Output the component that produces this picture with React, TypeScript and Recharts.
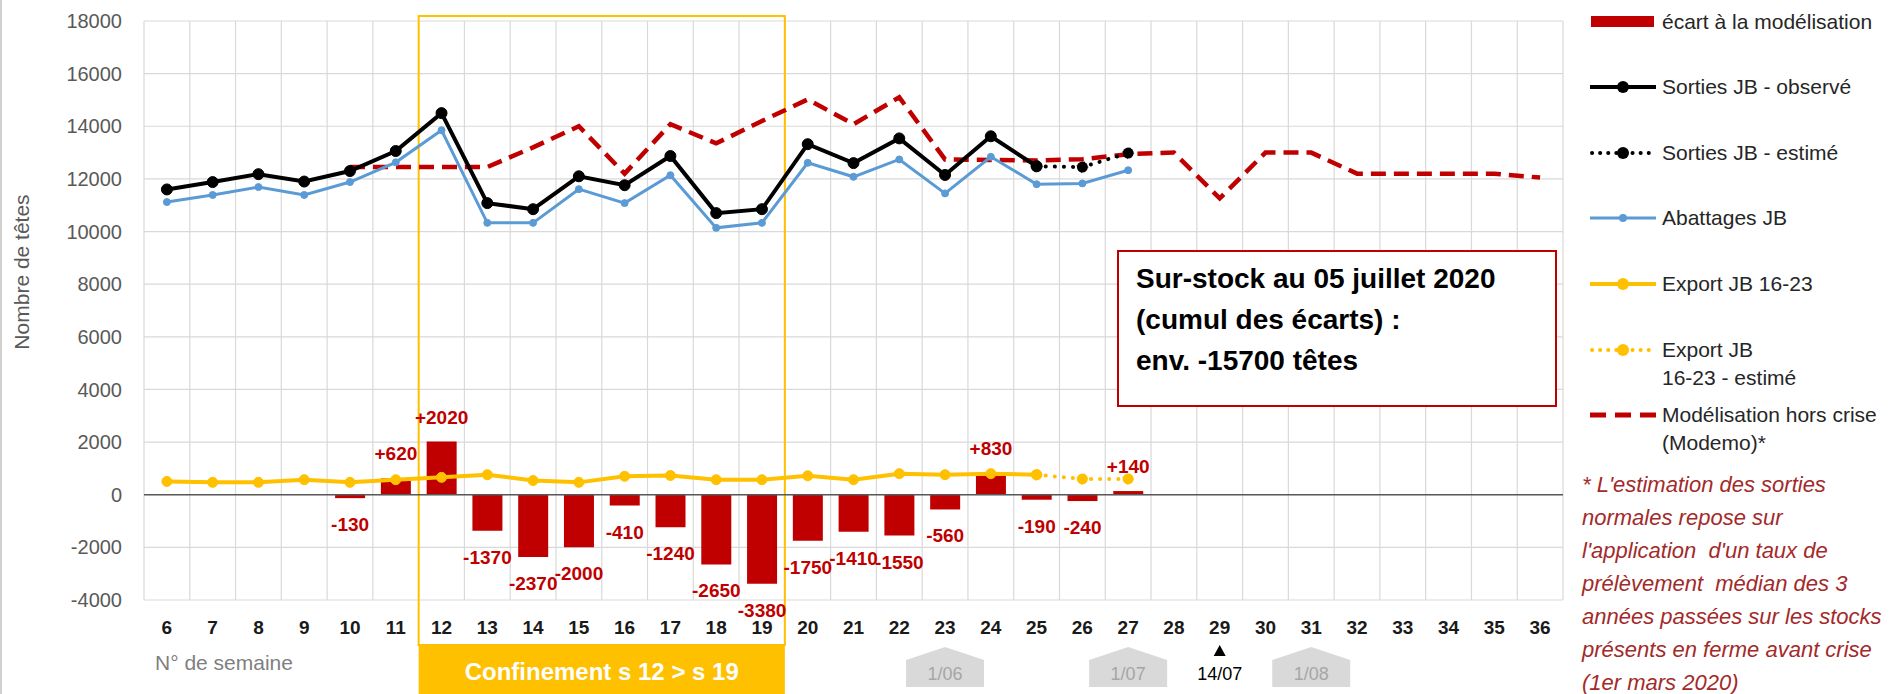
import React from "react";
import {
  ComposedChart,
  Bar,
  Line,
  XAxis,
  YAxis,
  CartesianGrid,
  ReferenceLine,
  ReferenceArea,
  LabelList,
} from "recharts";

const FONT = "'Liberation Sans', Arial, sans-serif";

// semaines 6 à 36
const WEEKS = [
  6, 7, 8, 9, 10, 11, 12, 13, 14, 15, 16, 17, 18, 19, 20, 21, 22, 23, 24, 25, 26,
  27, 28, 29, 30, 31, 32, 33, 34, 35, 36,
];

const ECART = [
  null, null, null, null, -130, 620, 2020, -1370, -2370, -2000, -410, -1240, -2650,
  -3380, -1750, -1410, -1550, -560, 830, -190, -240, 140, null, null, null, null,
  null, null, null, null, null,
];

const SORTIES_OBS = [
  11600, 11880, 12180, 11900, 12300, 13060, 14500, 11080, 10850, 12100, 11760, 12870,
  10700, 10850, 13320, 12600, 13540, 12150, 13620, 12480, null, null, null, null, null,
  null, null, null, null, null, null,
];

const SORTIES_EST = [
  null, null, null, null, null, null, null, null, null, null, null, null, null, null,
  null, null, null, null, null, 12480, 12450, 12980, null, null, null, null, null, null,
  null, null, null,
];

const ABATTAGES = [
  11120, 11390, 11690, 11390, 11880, 12630, 13850, 10330, 10330, 11610, 11080, 12140,
  10140, 10330, 12610, 12080, 12740, 11450, 12840, 11800, 11830, 12330, null, null,
  null, null, null, null, null, null, null,
];

const EXPORT = [
  505, 470, 470, 570, 470, 570, 660, 760, 540, 470, 700, 730, 570, 570, 720, 570, 800,
  760, 800, 760, null, null, null, null, null, null, null, null, null, null, null,
];

const EXPORT_EST = [
  null, null, null, null, null, null, null, null, null, null, null, null, null, null,
  null, null, null, null, null, 760, 600, 600, null, null, null, null, null, null, null,
  null, null,
];

const MODELISATION = [
  null, null, null, null, 12450, 12450, 12450, 12450, 13200, 14000, 12200, 14080,
  13350, 14200, 15020, 14080, 15100, 12740, 12720, 12700, 12750, 12940, 13000, 11260,
  13000, 13000, 12200, 12200, 12200, 12200, 12050,
];

const Y_TICKS = [-4000, -2000, 0, 2000, 4000, 6000, 8000, 10000, 12000, 14000, 16000, 18000];

const CONFINEMENT = { from: 12, to: 19, label: "Confinement s 12 > s 19" };

const MONTH_MARKS = [
  { week: 23, label: "1/06" },
  { week: 27, label: "1/07" },
  { week: 31, label: "1/08" },
];
const EVENT_MARKS = [{ week: 29, label: "14/07" }];

const FOOTNOTE = [
  "* L'estimation des sorties",
  "normales repose sur",
  "l'application  d'un taux de",
  "prélèvement  médian des 3",
  "années passées sur les stocks",
  "présents en ferme avant crise",
  "(1er mars 2020)",
];

const RED = "#C00000";
const BLUE = "#5B9BD5";
const YELLOW = "#FFC000";

const data = WEEKS.map((week, i) => ({
  week,
  ecart: ECART[i],
  sortiesObs: SORTIES_OBS[i],
  sortiesEst: SORTIES_EST[i],
  abattages: ABATTAGES[i],
  export: EXPORT[i],
  exportEst: EXPORT_EST[i],
  modelisation: MODELISATION[i],
}));

// grille verticale entre les semaines (bords des bandes de l'axe catégoriel)
function weekBoundaries({ xAxis, offset }: any): number[] {
  const s = xAxis?.scale;
  if (typeof s === "function" && typeof s.bandwidth === "function") {
    const starts = WEEKS.map((w) => s(w) as number);
    return [...starts, starts[starts.length - 1] + s.bandwidth()];
  }
  const step = offset.width / WEEKS.length;
  return [...WEEKS.map((_, i) => offset.left + i * step), offset.left + offset.width];
}

function WeekTick(props: any) {
  const { x, y, payload } = props;
  const week = payload?.value;
  const month = MONTH_MARKS.find((m) => m.week === week);
  const ev = EVENT_MARKS.find((m) => m.week === week);
  return (
    <g>
      <text x={x} y={y + 34} textAnchor="middle" fontSize={19} fontWeight="bold" fill="#1a1a1a">
        {week}
      </text>
      {month && (
        <g>
          <polygon
            points={`${x - 39},${y + 60} ${x},${y + 47} ${x + 39},${y + 60} ${x + 39},${y + 87} ${x - 39},${y + 87}`}
            fill="#D9D9D9"
          />
          <text x={x} y={y + 80} textAnchor="middle" fontSize={18} fill="#A6A6A6">
            {month.label}
          </text>
        </g>
      )}
      {ev && (
        <g>
          <polygon points={`${x - 6},${y + 56} ${x + 6},${y + 56} ${x},${y + 45}`} fill="#000" />
          <text x={x} y={y + 80} textAnchor="middle" fontSize={18} fill="#000">
            {ev.label}
          </text>
        </g>
      )}
    </g>
  );
}

function EcartLabel(props: any) {
  const vb = props.viewBox ?? props;
  const x = vb.x ?? props.x;
  const y = vb.y ?? props.y;
  const width = vb.width ?? props.width;
  const height = vb.height ?? props.height;
  const value = props.value;
  if (value == null || x == null || y == null) return null;
  const v = Number(value);
  const top = Math.min(y, y + height);
  const bottom = Math.max(y, y + height);
  const cy = v >= 0 ? top - 25 : bottom + 26;
  return (
    <text x={x + width / 2} y={cy + 7} textAnchor="middle" fontSize={19} fontWeight="bold" fill={RED}>
      {v > 0 ? `+${v}` : `${v}`}
    </text>
  );
}

function ConfinementShape(props: any) {
  const { x, y, width, height } = props;
  const bottom = y + height;
  return (
    <g>
      <rect x={x} y={y - 5} width={width} height={height + 50} fill="none" stroke={YELLOW} strokeWidth={2} />
      <rect x={x} y={bottom + 45} width={width} height={49} fill={YELLOW} />
      <text x={x + width / 2} y={bottom + 80} textAnchor="middle" fontSize={24} fontWeight="bold" fill="#fff">
        {CONFINEMENT.label}
      </text>
    </g>
  );
}

type Swatch = "bar" | "line" | "dotted" | "thin" | "dashed";

const LEGEND = [
  { lines: ["écart à la modélisation"], kind: "bar" as Swatch, color: RED, cy: 22 },
  { lines: ["Sorties JB - observé"], kind: "line" as Swatch, color: "#000", cy: 87 },
  { lines: ["Sorties JB - estimé"], kind: "dotted" as Swatch, color: "#000", cy: 153 },
  { lines: ["Abattages JB"], kind: "thin" as Swatch, color: BLUE, cy: 218 },
  { lines: ["Export JB 16-23"], kind: "line" as Swatch, color: YELLOW, cy: 284 },
  { lines: ["Export JB", "16-23 - estimé"], kind: "dotted" as Swatch, color: YELLOW, cy: 350 },
  { lines: ["Modélisation hors crise", "(Modemo)*"], kind: "dashed" as Swatch, color: RED, cy: 415 },
];

function LegendSwatch({ kind, color }: { kind: Swatch; color: string }) {
  return (
    <svg width={68} height={28} style={{ position: "absolute", left: 0, top: 0 }}>
      {kind === "bar" && <rect x={1} y={8} width={63} height={11} fill={color} />}
      {kind === "line" && (
        <g>
          <line x1={0} y1={14} x2={66} y2={14} stroke={color} strokeWidth={4} />
          <circle cx={33} cy={14} r={6} fill={color} />
        </g>
      )}
      {kind === "thin" && (
        <g>
          <line x1={0} y1={14} x2={66} y2={14} stroke={color} strokeWidth={3} />
          <circle cx={33} cy={14} r={4} fill={color} />
        </g>
      )}
      {kind === "dotted" && (
        <g>
          <line x1={2} y1={14} x2={66} y2={14} stroke={color} strokeWidth={4} strokeDasharray="0.1 8" strokeLinecap="round" />
          <circle cx={33} cy={14} r={6} fill={color} />
        </g>
      )}
      {kind === "dashed" && (
        <line x1={0} y1={14} x2={66} y2={14} stroke={color} strokeWidth={5} strokeDasharray="16 9" />
      )}
    </svg>
  );
}

export default function App() {
  return (
    <div
      style={{
        position: "absolute",
        left: 0,
        top: 0,
        width: 1895,
        height: 694,
        background: "#fff",
        overflow: "hidden",
        fontFamily: FONT,
      }}
    >
      <div style={{ position: "absolute", left: 0, top: 0, width: 2, height: 694, background: "#D0D0D0" }} />
      <ComposedChart width={1895} height={694} data={data} margin={{ top: 21, right: 332, bottom: 64, left: 64 }}>
        <CartesianGrid stroke="#D9D9D9" strokeWidth={1.2} verticalCoordinatesGenerator={weekBoundaries} />
        <XAxis
          dataKey="week"
          interval={0}
          tickLine={false}
          axisLine={false}
          tickSize={0}
          tickMargin={0}
          height={30}
          tick={(p: any) => <WeekTick {...p} />}
        />
        <YAxis
          domain={[-4000, 18000]}
          ticks={Y_TICKS}
          interval={0}
          width={80}
          axisLine={false}
          tickLine={false}
          tickMargin={16}
          tick={{ fontSize: 20, fill: "#595959" }}
          allowDataOverflow
        />
        <ReferenceArea x1={CONFINEMENT.from} x2={CONFINEMENT.to} shape={(p: any) => <ConfinementShape {...p} />} />
        <Bar dataKey="ecart" fill={RED} barSize={30} isAnimationActive={false}>
          <LabelList dataKey="ecart" content={(p: any) => <EcartLabel {...p} />} />
        </Bar>
        <ReferenceLine y={0} stroke="#595959" strokeWidth={1.5} />
        <Line
          dataKey="modelisation"
          stroke={RED}
          strokeWidth={4.5}
          strokeDasharray="15 8"
          dot={false}
          type="linear"
          isAnimationActive={false}
        />
        <Line
          dataKey="abattages"
          stroke={BLUE}
          strokeWidth={3}
          dot={{ r: 3.5, fill: BLUE, stroke: BLUE, strokeWidth: 1 }}
          type="linear"
          isAnimationActive={false}
        />
        <Line
          dataKey="export"
          stroke={YELLOW}
          strokeWidth={4}
          dot={{ r: 5, fill: YELLOW, stroke: YELLOW, strokeWidth: 1 }}
          type="linear"
          isAnimationActive={false}
        />
        <Line
          dataKey="exportEst"
          stroke={YELLOW}
          strokeWidth={4}
          strokeDasharray="0.1 9"
          strokeLinecap="round"
          dot={{ r: 5.5, fill: YELLOW, stroke: YELLOW, strokeWidth: 1 }}
          type="linear"
          isAnimationActive={false}
        />
        <Line
          dataKey="sortiesObs"
          stroke="#000"
          strokeWidth={4}
          dot={{ r: 5.5, fill: "#000", stroke: "#000", strokeWidth: 1 }}
          type="linear"
          isAnimationActive={false}
        />
        <Line
          dataKey="sortiesEst"
          stroke="#000"
          strokeWidth={4}
          strokeDasharray="0.1 9"
          strokeLinecap="round"
          dot={{ r: 5.5, fill: "#000", stroke: "#000", strokeWidth: 1 }}
          type="linear"
          isAnimationActive={false}
        />
      </ComposedChart>

      <div
        style={{
          position: "absolute",
          left: 22,
          top: 272,
          transform: "translate(-50%, -50%) rotate(-90deg)",
          whiteSpace: "nowrap",
          fontSize: 21,
          color: "#595959",
        }}
      >
        Nombre de têtes
      </div>

      <div style={{ position: "absolute", left: 155, top: 650, fontSize: 21, lineHeight: "26px", color: "#7F7F7F" }}>
        N° de semaine
      </div>

      <div
        style={{
          position: "absolute",
          left: 1117,
          top: 250,
          width: 440,
          height: 157,
          boxSizing: "border-box",
          border: `2px solid ${RED}`,
          background: "#fff",
          padding: "6px 0 0 17px",
          fontSize: 28,
          fontWeight: "bold",
          lineHeight: "41px",
          color: "#000",
          whiteSpace: "nowrap",
        }}
      >
        <div>Sur-stock au 05 juillet 2020</div>
        <div>(cumul des écarts) :</div>
        <div>env. -15700 têtes</div>
      </div>

      {LEGEND.map((item) => (
        <div key={item.lines[0]} style={{ position: "absolute", left: 1590, top: item.cy - 14 }}>
          <LegendSwatch kind={item.kind} color={item.color} />
          <div
            style={{
              position: "absolute",
              left: 72,
              top: 0,
              whiteSpace: "nowrap",
              fontSize: 21,
              lineHeight: "28px",
              color: "#262626",
            }}
          >
            {item.lines.map((l) => (
              <div key={l}>{l}</div>
            ))}
          </div>
        </div>
      ))}

      <div
        style={{
          position: "absolute",
          left: 1582,
          top: 468,
          fontSize: 22,
          lineHeight: "33px",
          fontStyle: "italic",
          color: "#A32A2A",
          whiteSpace: "pre",
        }}
      >
        {FOOTNOTE.map((l) => (
          <div key={l}>{l}</div>
        ))}
      </div>
    </div>
  );
}
